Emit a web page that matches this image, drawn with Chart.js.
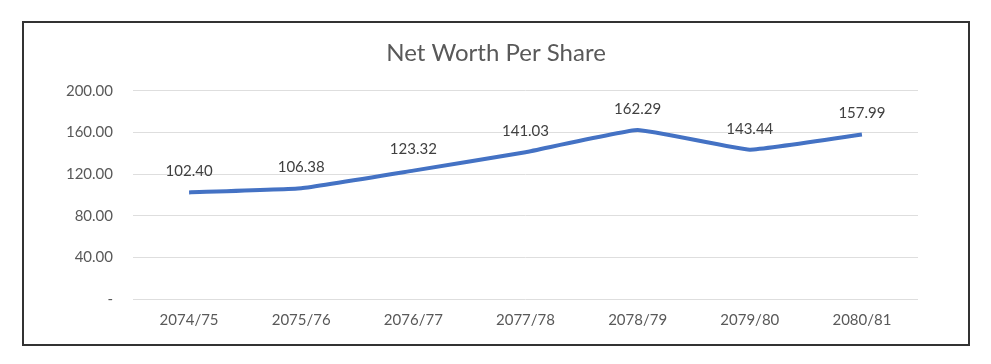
<!DOCTYPE html>
<html>
<head>
<meta charset="utf-8">
<script src="https://cdn.jsdelivr.net/npm/chart.js@4"></script>
<style>
  html, body { margin: 0; padding: 0; background: #fff; }
  #box {
    position: absolute; left: 22px; top: 21px;
    width: 944px; height: 321px;
    border: 2px solid #333;
    background: #fff;
  }
</style>
</head>
<body>
<div id="box"><canvas id="nw-chart"></canvas></div>
<script>
const years = ["2074/75", "2075/76", "2076/77", "2077/78", "2078/79", "2079/80", "2080/81"];
const netWorth = [102.40, 106.38, 123.32, 141.03, 162.29, 143.44, 157.99];
const yTicks = [0, 40, 80, 120, 160, 200];

const FONT = 'Lato, "Open Sans", sans-serif';

// draw the value above each point
const valueLabels = {
    id: 'valueLabels',
    afterDatasetsDraw(chart) {
        const c = chart.ctx;
        const meta = chart.getDatasetMeta(0);
        c.save();
        c.font = '15px ' + FONT;
        c.fillStyle = '#404040';
        c.textAlign = 'center';
        c.textBaseline = 'middle';
        meta.data.forEach((pt, i) => {
            c.fillText(netWorth[i].toFixed(2), pt.x, pt.y - 21);
        });
        c.restore();
    }
};

var ctx = document.getElementById('nw-chart');

var chart = new Chart(ctx, {
    type: 'line',
    data: {
        labels: years,
        datasets: [{
            label: 'Net Worth Per Share',
            data: netWorth,
            borderColor: '#4472C4',
            borderWidth: 4,
            pointRadius: 0,
            tension: 0.1,
            fill: false
        }]
    },
    options: {
        responsive: true,
        maintainAspectRatio: false,
        animation: false,
        layout: { padding: { left: 0, right: 0, top: 0, bottom: 3 } },
        plugins: {
            legend: { display: false },
            tooltip: { enabled: false },
            title: {
                display: true,
                text: 'Net Worth Per Share',
                color: '#595959',
                font: { family: FONT, size: 24, weight: 'normal' },
                padding: { top: 16, bottom: 23 }
            }
        },
        scales: {
            x: {
                offset: true,
                grid: { display: false, drawTicks: false },
                border: { display: false },
                ticks: {
                    color: '#595959',
                    font: { family: FONT, size: 15 },
                    padding: 12,
                    maxRotation: 0
                }
            },
            y: {
                min: 0,
                max: 200,
                afterFit: (s) => { s.width = 109; },
                afterBuildTicks: (s) => { s.ticks = yTicks.map(v => ({ value: v })); },
                grid: { color: '#dedede', lineWidth: 1, drawTicks: false },
                border: { display: false },
                ticks: {
                    color: '#595959',
                    font: { family: FONT, size: 15 },
                    padding: 20,
                    callback: (v) => v === 0 ? '-' : v.toFixed(2)
                }
            },
            // empty right axis, only keeps the plot clear of the right edge
            yRight: {
                position: 'right',
                min: 0,
                max: 200,
                afterFit: (s) => { s.width = 50; },
                grid: { display: false, drawTicks: false },
                border: { display: false },
                ticks: { display: false }
            }
        }
    },
    plugins: [valueLabels]
});
</script>
</body>
</html>
